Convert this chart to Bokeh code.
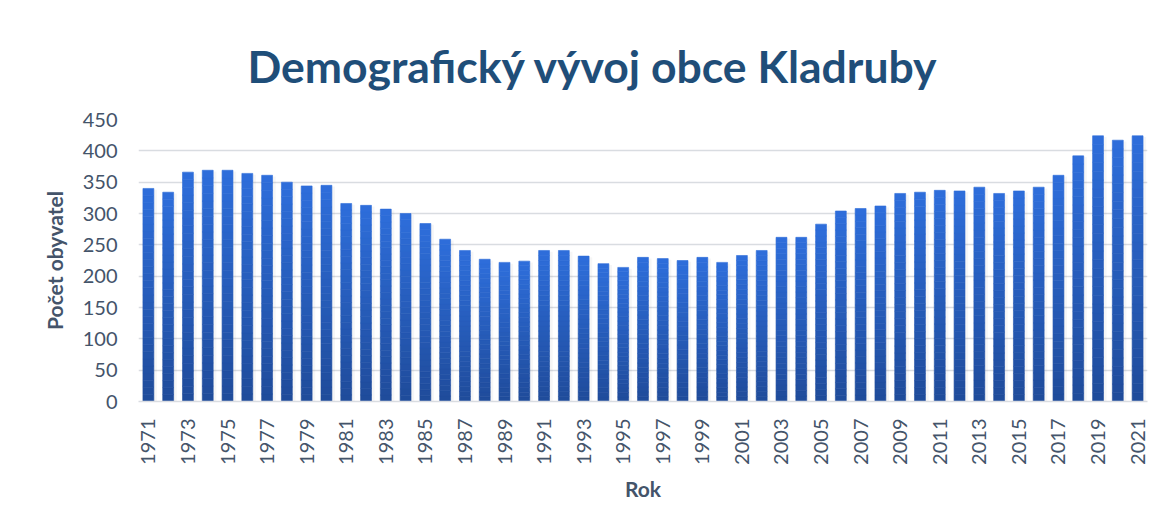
from math import pi
from bokeh.plotting import figure
from bokeh.models import FixedTicker, Range1d, ColumnDataSource
from bokeh.embed import file_html
from bokeh.resources import INLINE

# ---- data ----
years = list(range(1971, 2022))
population = [340, 334, 366, 369, 369, 364, 361, 350, 344, 345,
              316, 313, 307, 300, 284, 259, 241, 227, 222, 224,
              241, 241, 232, 220, 214, 230, 228, 225, 230, 222,
              233, 241, 262, 262, 283, 304, 308, 312, 332, 334,
              337, 336, 342, 332, 336, 342, 361, 392, 424, 417, 424]
y_ticks = [0, 50, 100, 150, 200, 250, 300, 350, 400, 450]
x_ticks = [y for y in years if (y - 1971) % 2 == 0]
title_text = "Demografický vývoj obce Kladruby"
x_label = "Rok"
y_label = "Počet obyvatel"

FONT = "Lato"
TEXT_COLOR = "#44546A"
TITLE_COLOR = "#1F4E79"
BAR_BOTTOM = (0x1F, 0x4B, 0x9A)
BAR_TOP = (0x2E, 0x6E, 0xDB)

p = figure(width=1157, height=522, output_backend="svg", toolbar_location=None,
           x_range=Range1d(1970.5, 2021.5), y_range=Range1d(0, 450),
           min_border_left=138, min_border_right=10, min_border_top=119,
           min_border_bottom=121, title=title_text)
p.outline_line_color = None
p.background_fill_color = "white"
p.border_fill_color = "white"

p.title.align = "left"
p.title.offset = 109
p.title.text_font = FONT
p.title.text_font_size = "44.5px"
p.title.text_font_style = "bold"
p.title.text_color = TITLE_COLOR
p.title.standoff = 56

# subtle shadow behind bars
shadow = ColumnDataSource(dict(x=[y + 0.06 for y in years], top=[v - 2 for v in population]))
p.vbar(x="x", top="top", bottom=0, width=0.75, source=shadow,
       fill_color="#000000", fill_alpha=0.035, line_color=None)

# gradient bars drawn as stacked slices of each bar
N = 30
for k in range(N):
    t = (k + 0.5) / N
    c = tuple(int(round(BAR_BOTTOM[i] + (BAR_TOP[i] - BAR_BOTTOM[i]) * t)) for i in range(3))
    color = "#%02x%02x%02x" % c
    src = ColumnDataSource(dict(x=years,
                                bottom=[v * k / N for v in population],
                                top=[v * (k + 1) / N for v in population]))
    p.vbar(x="x", bottom="bottom", top="top", width=0.55, source=src,
           fill_color=color, line_color=color, line_width=0.6)

# axes
p.xaxis.ticker = FixedTicker(ticks=x_ticks)
p.xaxis.major_label_overrides = {y: str(y) for y in x_ticks}
p.xaxis.major_label_orientation = pi / 2
p.xaxis.major_tick_line_color = None
p.xaxis.minor_tick_line_color = None
p.xaxis.axis_line_color = "#D9DCE1"
p.xaxis.axis_line_width = 1.5
p.xaxis.major_label_text_font = FONT
p.xaxis.major_label_text_font_size = "20px"
p.xaxis.major_label_text_color = TEXT_COLOR
p.xaxis.major_label_standoff = 11
p.xaxis.axis_label = x_label
p.xaxis.axis_label_text_font = FONT
p.xaxis.axis_label_text_font_size = "21px"
p.xaxis.axis_label_text_font_style = "bold"
p.xaxis.axis_label_text_color = TEXT_COLOR
p.xaxis.axis_label_standoff = 8

p.yaxis.ticker = FixedTicker(ticks=y_ticks)
p.yaxis.axis_line_color = None
p.yaxis.major_tick_line_color = None
p.yaxis.minor_tick_line_color = None
p.yaxis.major_label_text_font = FONT
p.yaxis.major_label_text_font_size = "20px"
p.yaxis.major_label_text_color = TEXT_COLOR
p.yaxis.major_label_standoff = 15
p.yaxis.axis_label = y_label
p.yaxis.axis_label_text_font = FONT
p.yaxis.axis_label_text_font_size = "21px"
p.yaxis.axis_label_text_font_style = "bold"
p.yaxis.axis_label_text_color = TEXT_COLOR
p.yaxis.axis_label_standoff = 13

p.xgrid.grid_line_color = None
p.ygrid.grid_line_color = "#D9DCE1"
p.ygrid.grid_line_width = 1.5

open("out.html", "w").write(file_html(p, INLINE))
